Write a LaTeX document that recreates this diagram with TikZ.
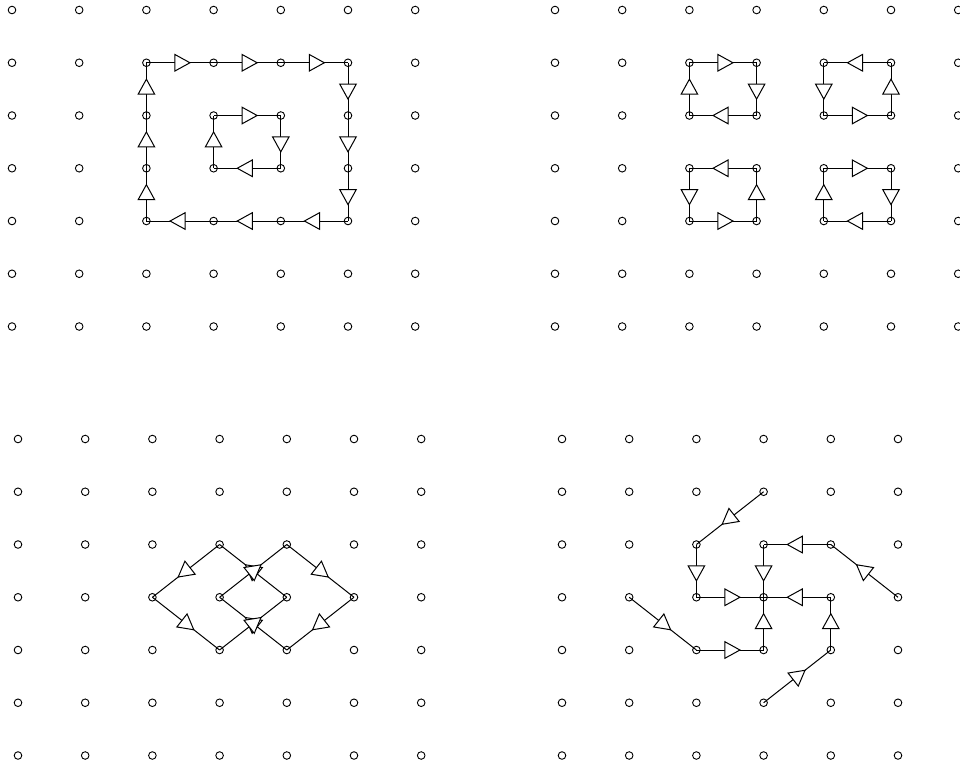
\documentclass[tikz,border=0pt]{standalone}
\usetikzlibrary{arrows.meta,decorations.markings}

% 7x7 lattice of open dots, named <prefix>-<col>-<row>
\newcommand\dotgrid[1]{%
  \foreach \i in {0,...,6}
    \foreach \j in {0,...,6}
      \node[dot] (#1-\i-\j) at (\i,\j) {};
}

\begin{document}
\begin{tikzpicture}[
  x=33.6pt, y=-26.375pt,
  dot/.style={draw, circle, inner sep=0pt, minimum size=3.8pt, line width=0.45pt},
  flow/.style={line width=0.5pt, postaction={decorate},
               decoration={markings,
                 mark=at position {0.5*\pgfdecoratedpathlength+5.5pt} with
                   {\arrow{Triangle[fill=white, length=8.3pt, width=9pt]}}}},
]
\useasboundingbox (0pt,0pt) rectangle (480pt,-384pt);
\clip (0pt,0pt) rectangle (480pt,-384pt);

\begin{scope}[shift={(6pt,-5pt)}]
  \dotgrid{tl}
\end{scope}
\begin{scope}[shift={(277.5pt,-5pt)}]
  \dotgrid{tr}
\end{scope}
\begin{scope}[shift={(9pt,-219.5pt)}]
  \dotgrid{bl}
\end{scope}
\begin{scope}[shift={(281pt,-219.5pt)}]
  \dotgrid{br}
\end{scope}

% top left: spiral
\foreach \a/\b in {tl-2-1/tl-3-1, tl-3-1/tl-4-1, tl-4-1/tl-5-1,
                   tl-5-1/tl-5-2, tl-5-2/tl-5-3, tl-5-3/tl-5-4,
                   tl-5-4/tl-4-4, tl-4-4/tl-3-4, tl-3-4/tl-2-4,
                   tl-2-4/tl-2-3, tl-2-3/tl-2-2, tl-2-2/tl-2-1,
                   tl-3-2/tl-4-2, tl-4-2/tl-4-3, tl-4-3/tl-3-3, tl-3-3/tl-3-2}
  \draw[flow] (\a.center) -- (\b.center);

% top right: four cells
\foreach \a/\b in {tr-2-1/tr-3-1, tr-3-1/tr-3-2, tr-3-2/tr-2-2, tr-2-2/tr-2-1,
                   tr-5-1/tr-4-1, tr-4-1/tr-4-2, tr-4-2/tr-5-2, tr-5-2/tr-5-1,
                   tr-3-3/tr-2-3, tr-2-3/tr-2-4, tr-2-4/tr-3-4, tr-3-4/tr-3-3,
                   tr-4-3/tr-5-3, tr-5-3/tr-5-4, tr-5-4/tr-4-4, tr-4-4/tr-4-3}
  \draw[flow] (\a.center) -- (\b.center);

% bottom left: two diamonds
\foreach \a/\b in {bl-3-2/bl-2-3, bl-4-3/bl-3-2, bl-3-3/bl-4-2, bl-4-2/bl-5-3,
                   bl-2-3/bl-3-4, bl-4-4/bl-3-3, bl-3-4/bl-4-3, bl-5-3/bl-4-4}
  \draw[flow] (\a.center) -- (\b.center);

% bottom right: pinwheel
\foreach \a/\b in {br-3-1/br-2-2, br-2-2/br-2-3, br-2-3/br-3-3,
                   br-5-3/br-4-2, br-4-2/br-3-2, br-3-2/br-3-3,
                   br-3-5/br-4-4, br-4-4/br-4-3, br-4-3/br-3-3,
                   br-1-3/br-2-4, br-2-4/br-3-4, br-3-4/br-3-3}
  \draw[flow] (\a.center) -- (\b.center);
\end{tikzpicture}
\end{document}
